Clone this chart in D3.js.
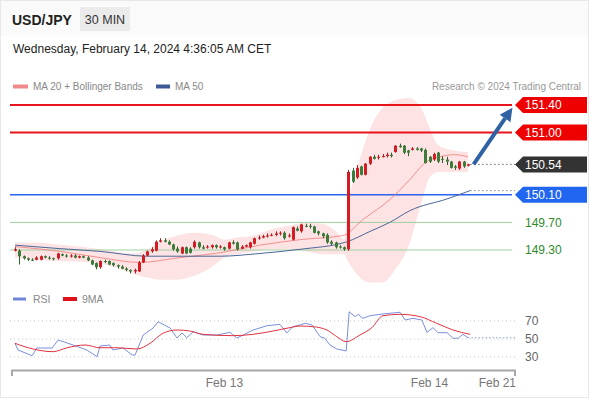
<!DOCTYPE html>
<html>
<head>
<meta charset="UTF-8">
<script src="https://cdn.jsdelivr.net/npm/d3@7"></script>
<style>
  body { margin: 0; background: #fff; }
  svg { display: block; font-family: "Liberation Sans", Arial, sans-serif; }
</style>
</head>
<body>
<svg width="590" height="400"></svg>
<script>
// 30 min candles, index 0 = first bar on the chart
var opens = [
  149.29,149.29,149.21,149.18,149.16,149.16,149.16,149.21,149.19,149.18,
  149.18,149.24,149.22,149.21,149.22,149.19,149.21,149.19,149.15,149.11,
  149.05,149.14,149.14,149.11,149.08,149.06,149.03,149.01,148.99,148.99,
  149.12,149.22,149.28,149.29,149.42,149.44,149.42,149.38,149.32,149.25,
  149.34,149.32,149.34,149.41,149.34,149.34,149.34,149.37,149.34,149.34,
  149.32,149.41,149.41,149.32,149.35,149.34,149.39,149.47,149.48,149.50,
  149.51,149.52,149.54,149.55,149.50,149.45,149.61,149.57,149.65,149.65,
  149.64,149.57,149.54,149.52,149.42,149.41,149.35,149.34,149.31,150.45,
  150.35,150.51,150.39,150.55,150.65,150.64,150.65,150.66,150.68,150.72,
  150.81,150.81,150.74,150.75,150.77,150.77,150.75,150.65,150.61,150.71,
  150.62,150.61,150.58,150.51,150.48,150.58,150.52];
var closes = [
  149.31,149.21,149.18,149.16,149.15,149.19,149.21,149.19,149.18,149.17,
  149.25,149.22,149.21,149.22,149.19,149.21,149.19,149.15,149.09,149.05,
  149.14,149.13,149.09,149.08,149.06,149.03,149.01,148.99,149.01,149.12,
  149.22,149.28,149.31,149.42,149.44,149.42,149.38,149.31,149.28,149.34,
  149.25,149.26,149.42,149.34,149.32,149.35,149.37,149.34,149.35,149.31,
  149.41,149.39,149.31,149.35,149.37,149.41,149.47,149.48,149.50,149.51,
  149.52,149.54,149.55,149.47,149.51,149.63,149.58,149.67,149.64,149.64,
  149.55,149.54,149.50,149.41,149.39,149.34,149.34,149.31,150.43,150.29,
  150.49,150.39,150.55,150.65,150.62,150.65,150.66,150.68,150.66,150.81,
  150.79,150.71,150.71,150.77,150.75,150.74,150.56,150.58,150.69,150.58,
  150.61,150.58,150.49,150.49,150.58,150.51,150.54];
var highs = [
  149.34,149.31,149.22,149.19,149.18,149.21,149.22,149.22,149.21,149.19,
  149.26,149.25,149.24,149.24,149.24,149.22,149.22,149.21,149.16,149.12,
  149.15,149.16,149.15,149.12,149.09,149.08,149.05,149.02,149.03,149.14,
  149.24,149.29,149.34,149.44,149.47,149.47,149.44,149.39,149.35,149.35,
  149.35,149.34,149.44,149.42,149.37,149.37,149.38,149.38,149.37,149.35,
  149.42,149.44,149.42,149.37,149.38,149.42,149.48,149.51,149.52,149.54,
  149.54,149.57,149.57,149.57,149.54,149.64,149.64,149.68,149.68,149.68,
  149.65,149.58,149.55,149.54,149.44,149.42,149.37,149.35,150.46,150.49,
  150.53,150.52,150.56,150.66,150.68,150.68,150.69,150.71,150.71,150.82,
  150.84,150.82,150.75,150.79,150.79,150.78,150.77,150.66,150.71,150.72,
  150.66,150.65,150.59,150.53,150.59,150.59,150.55];
var lows = [
  149.28,149.09,149.16,149.14,149.14,149.15,149.15,149.18,149.16,149.15,
  149.16,149.21,149.19,149.19,149.18,149.18,149.18,149.14,149.08,149.02,
  149.03,149.11,149.08,149.06,149.03,149.02,148.99,148.96,148.96,148.98,
  149.11,149.21,149.26,149.28,149.41,149.41,149.37,149.29,149.26,149.24,
  149.24,149.25,149.32,149.32,149.31,149.32,149.32,149.32,149.32,149.29,
  149.31,149.38,149.29,149.31,149.34,149.32,149.38,149.45,149.47,149.48,
  149.50,149.50,149.51,149.45,149.48,149.44,149.57,149.55,149.63,149.61,
  149.54,149.51,149.47,149.39,149.37,149.32,149.32,149.29,149.29,150.27,
  150.33,150.38,150.38,150.53,150.61,150.61,150.64,150.64,150.64,150.71,
  150.78,150.69,150.66,150.74,150.74,150.72,150.55,150.56,150.59,150.56,
  150.56,150.53,150.48,150.46,150.46,150.49,150.51];

// bollinger band + MA 20 / MA 50 (bar index, price)
var bandIdx   = [0,5,10,15,20,25,28,31,34,38,42,46,49,52,56,60,64,68,72,75,77,78,80,83,86,89,92,95,97,99,102,106];
var bandUpper = [149.41,149.41,149.38,149.35,149.31,149.26,149.25,149.31,149.42,149.51,149.55,149.52,149.45,149.48,149.51,149.60,
                 149.65,149.70,149.68,149.57,149.45,149.96,150.46,151.04,151.36,151.47,151.50,151.36,151.07,150.82,150.75,150.72];
var bandLower = [149.19,149.15,149.14,149.13,149.10,149.02,148.95,148.90,148.87,148.87,148.93,149.05,149.19,149.24,149.28,149.31,
                 149.31,149.28,149.24,149.24,149.24,149.13,148.95,148.83,148.83,149.02,149.34,149.96,150.35,150.43,150.43,150.43];
var ma20Idx = [0,10.5,19.9,29.2,38.6,48,57.3,66.7,76.7,81.4,87.7,92.4,95.9,99.4,103,106];
var ma20Val = [149.35,149.28,149.19,149.12,149.19,149.26,149.37,149.45,149.51,149.74,150.03,150.32,150.56,150.65,150.68,150.65];
var ma50Idx = [0,10.5,19.9,30.9,48,57.3,66.7,77.7,83.1,87.7,92.4,101.1,106.5];
var ma50Val = [149.37,149.32,149.28,149.21,149.21,149.25,149.31,149.42,149.57,149.70,149.87,150.04,150.16];

// RSI panel
var rsiIdx = [0,0.7,4,5.1,8.7,10.1,12.2,13.6,16.8,19.2,19.9,22.2,22.9,25.3,27.4,28.1,30,32.3,33.5,36.3,37.9,39.1,40.2,41.7,44,47.3,
              50.3,51.9,53.4,55.7,59,62,63.6,65,66.7,67.9,69.5,71.4,72.5,73.7,75.3,77.5,78.2,79.6,80.3,81.4,83.1,86.1,90.1,91.3,
              93.1,95.2,96.4,97.8,99,101.1,102.5,103.7,104.8,106];
var rsiVal = [45.2,37.8,31.4,40,40,48.9,45.6,43.3,37.8,30.3,42.2,43.3,37.8,40,32.2,32.2,54.4,62.2,69.2,62.2,51.1,56.7,51.4,58.1,54.4,54.4,
              57.4,51.1,54.4,60,64.8,66.3,56.7,63.7,65.6,67.4,65.6,52.6,50.8,43.3,38.9,36.7,80.3,74.8,77.4,73,75.9,77.8,79.7,71.1,
              73,71.1,57.4,62.6,57,57,50.8,50.8,55.2,51.4];
var ma9Idx = [0,4.2,8.9,12.2,16.4,19.9,23.9,28.5,31.6,34.6,37.9,40.9,44,51,55.7,60.4,64.3,66.7,69.7,73,75.3,77.5,80.7,83.5,86.1,90.1,94.8,98.7,102.5,106.5];
var ma9Val = [45.2,38.9,35.9,40.3,43.3,40.3,40.3,38.9,45.2,56.3,60,58.9,55.2,53.7,55.2,58.9,62.6,64.4,63.7,60,52.6,47,54.4,62.6,75.9,77.4,74.8,67.4,60,55.2];
var rsiLevels = [70, 50, 30];

// levels and labels
var resistances = [151.40, 151.00];
var pivot = 150.10;
var supports = [149.70, 149.30];
var lastPrice = 150.54;
var target = 151.36;
var timeTicks = [{i: 49, label: "Feb 13"}, {i: 97, label: "Feb 14"}];
var endLabel = "Feb 21";

var svg = d3.select("svg");
var plotL = 10, plotR = 515, tagX = 515;

var x = d3.scaleLinear().domain([0, 106]).range([15, 468]);
var y = d3.scaleLinear().domain([149.30, 151.40]).range([250, 105]);
var yr = d3.scaleLinear().domain([30, 70]).range([357, 321]);

// frame + header
svg.append("rect").attr("x", 0.5).attr("y", 0.5).attr("width", 588).attr("height", 397)
  .attr("fill", "#fff").attr("stroke", "#e8e8e8");
svg.append("rect").attr("x", 1).attr("y", 1).attr("width", 587).attr("height", 35).attr("fill", "#fafafa");
svg.append("text").attr("x", 12).attr("y", 24.5).attr("font-size", 14).attr("font-weight", "bold")
  .attr("fill", "#222").text("USD/JPY");
svg.append("rect").attr("x", 80).attr("y", 7).attr("width", 50).attr("height", 24).attr("fill", "#ebebeb");
svg.append("text").attr("x", 105).attr("y", 23.5).attr("text-anchor", "middle").attr("font-size", 12.5)
  .attr("fill", "#333").text("30 MIN");
svg.append("text").attr("x", 13).attr("y", 53).attr("font-size", 12).attr("fill", "#222")
  .text("Wednesday, February 14, 2024 4:36:05 AM CET");

// legend
var leg = svg.append("g").attr("font-size", 10).attr("fill", "#888");
leg.append("rect").attr("x", 13).attr("y", 84.5).attr("width", 15).attr("height", 4).attr("fill", "#f08a8a");
leg.append("text").attr("x", 33).attr("y", 90).text("MA 20 + Bollinger Bands");
leg.append("rect").attr("x", 156).attr("y", 84.5).attr("width", 14).attr("height", 4).attr("fill", "#3d5a96");
leg.append("text").attr("x", 175).attr("y", 90).text("MA 50");
leg.append("text").attr("x", 581).attr("y", 90).attr("text-anchor", "end").attr("fill", "#999")
  .text("Research \u00a9 2024 Trading Central");

// bollinger band
var band = bandIdx.map(function(d, k) { return {i: d, hi: bandUpper[k], lo: bandLower[k]}; });
svg.append("path").datum(band)
  .attr("fill", "#fde3e3")
  .attr("d", d3.area().x(function(d) { return x(d.i); })
    .y0(function(d) { return y(d.lo); }).y1(function(d) { return y(d.hi); })
    .curve(d3.curveMonotoneX));

// horizontal levels
function hline(p, color, w) {
  svg.append("line").attr("x1", plotL).attr("x2", plotR - 3).attr("y1", y(p)).attr("y2", y(p))
    .attr("stroke", color).attr("stroke-width", w);
}
resistances.forEach(function(p) { hline(p, "#e8141c", 2); });
hline(pivot, "#2a63f2", 1.5);
supports.forEach(function(p) { hline(p, "#9fd09f", 1); });

// MA lines
var ln = d3.line().curve(d3.curveMonotoneX);
svg.append("path").attr("fill", "none").attr("stroke", "#f07b7b").attr("stroke-width", 1).attr("opacity", 0.8)
  .attr("d", ln(ma20Idx.map(function(d, k) { return [x(d), y(ma20Val[k])]; })));
svg.append("path").attr("fill", "none").attr("stroke", "#4a6699").attr("stroke-width", 1)
  .attr("d", ln(ma50Idx.map(function(d, k) { return [x(d), y(ma50Val[k])]; })));

// dotted guides to the tags
svg.append("line").attr("x1", x(106.5)).attr("x2", plotR).attr("y1", y(lastPrice)).attr("y2", y(lastPrice))
  .attr("stroke", "#666").attr("stroke-dasharray", "1.5,2.5");
svg.append("line").attr("x1", x(ma50Idx[ma50Idx.length - 1])).attr("x2", plotR)
  .attr("y1", y(ma50Val[ma50Val.length - 1])).attr("y2", y(ma50Val[ma50Val.length - 1]))
  .attr("stroke", "#888").attr("stroke-dasharray", "1.5,2.5");

// candles
var candles = svg.append("g");
opens.forEach(function(o, i) {
  var c = closes[i];
  var col = c >= o ? "#d41c24" : "#3c7d3c";
  var cx = Math.round(x(i)) + 0.5;
  candles.append("line").attr("x1", cx).attr("x2", cx).attr("y1", y(highs[i])).attr("y2", y(lows[i]))
    .attr("stroke", c >= o ? "#a02020" : "#2f5f2f").attr("stroke-width", 1);
  var top = y(Math.max(o, c)), bot = y(Math.min(o, c));
  candles.append("rect").attr("x", cx - 1.5).attr("width", 3)
    .attr("y", top).attr("height", Math.max(1, bot - top)).attr("fill", col);
});

// projection arrow
var ax0 = x(107.3), ay0 = y(lastPrice), ax1 = x(116.4), ay1 = y(target);
var ang = Math.atan2(ay1 - ay0, ax1 - ax0);
var hl = 13, hw = 6.5;
var bx = ax1 - hl * Math.cos(ang), by = ay1 - hl * Math.sin(ang);
svg.append("line").attr("x1", ax0).attr("y1", ay0).attr("x2", bx).attr("y2", by)
  .attr("stroke", "#2f62a3").attr("stroke-width", 4);
svg.append("path").attr("fill", "#2f62a3")
  .attr("d", "M" + ax1 + "," + ay1 +
    "L" + (bx + hw * Math.sin(ang)) + "," + (by - hw * Math.cos(ang)) +
    "L" + (bx - hw * Math.sin(ang)) + "," + (by + hw * Math.cos(ang)) + "Z");

// price tags
function tag(p, fill) {
  var yy = y(p);
  svg.append("path").attr("fill", fill)
    .attr("d", "M" + tagX + "," + yy + "L" + (tagX + 8) + "," + (yy - 8) + "L587," + (yy - 8) +
      "L587," + (yy + 8) + "L" + (tagX + 8) + "," + (yy + 8) + "Z");
  svg.append("text").attr("x", tagX + 10).attr("y", yy).attr("dy", "0.36em").attr("font-size", 12)
    .attr("fill", "#fff").text(p.toFixed(2));
}
resistances.forEach(function(p) { tag(p, "#ee0000"); });
tag(lastPrice, "#333333");
tag(pivot, "#2166f0");
supports.forEach(function(p) {
  svg.append("text").attr("x", tagX + 10).attr("y", y(p)).attr("dy", "0.36em").attr("font-size", 12)
    .attr("fill", "#2e8b2e").text(p.toFixed(2));
});

// RSI panel
var rl = svg.append("g").attr("font-size", 10.5).attr("fill", "#888");
rl.append("rect").attr("x", 13).attr("y", 297.5).attr("width", 13).attr("height", 3).attr("fill", "#6f86d8");
rl.append("text").attr("x", 33).attr("y", 303).text("RSI");
rl.append("rect").attr("x", 63).attr("y", 297).attr("width", 14).attr("height", 4).attr("fill", "#e0101a");
rl.append("text").attr("x", 82).attr("y", 303).text("9MA");

rsiLevels.forEach(function(v) {
  svg.append("line").attr("x1", plotL).attr("x2", plotR).attr("y1", yr(v)).attr("y2", yr(v))
    .attr("stroke", "#c8c8c8").attr("stroke-dasharray", "1,3");
  svg.append("text").attr("x", tagX + 10).attr("y", yr(v)).attr("dy", "0.36em").attr("font-size", 12)
    .attr("fill", "#666").text(v);
});
var lastRsi = rsiVal[rsiVal.length - 1];
svg.append("line").attr("x1", x(106)).attr("x2", plotR).attr("y1", yr(lastRsi)).attr("y2", yr(lastRsi))
  .attr("stroke", "#8fa0e0").attr("stroke-dasharray", "1.5,2");
svg.append("path").attr("fill", "none").attr("stroke", "#7a8fdc").attr("stroke-width", 1)
  .attr("d", d3.line()(rsiIdx.map(function(d, k) { return [x(d), yr(rsiVal[k])]; })));
svg.append("path").attr("fill", "none").attr("stroke", "#e2323f").attr("stroke-width", 1)
  .attr("d", ln(ma9Idx.map(function(d, k) { return [x(d), yr(ma9Val[k])]; })));

// time axis bracket
svg.append("path").attr("fill", "none").attr("stroke", "#a8a8a8").attr("stroke-width", 2)
  .attr("d", "M12,376V370.5H515V376");
var tx = svg.append("g").attr("font-size", 12).attr("fill", "#777");
timeTicks.forEach(function(t) {
  tx.append("text").attr("x", x(t.i)).attr("y", 387).attr("text-anchor", "middle").text(t.label);
});
tx.append("text").attr("x", 516).attr("y", 387).attr("text-anchor", "end").text(endLabel);
</script>
</body>
</html>
